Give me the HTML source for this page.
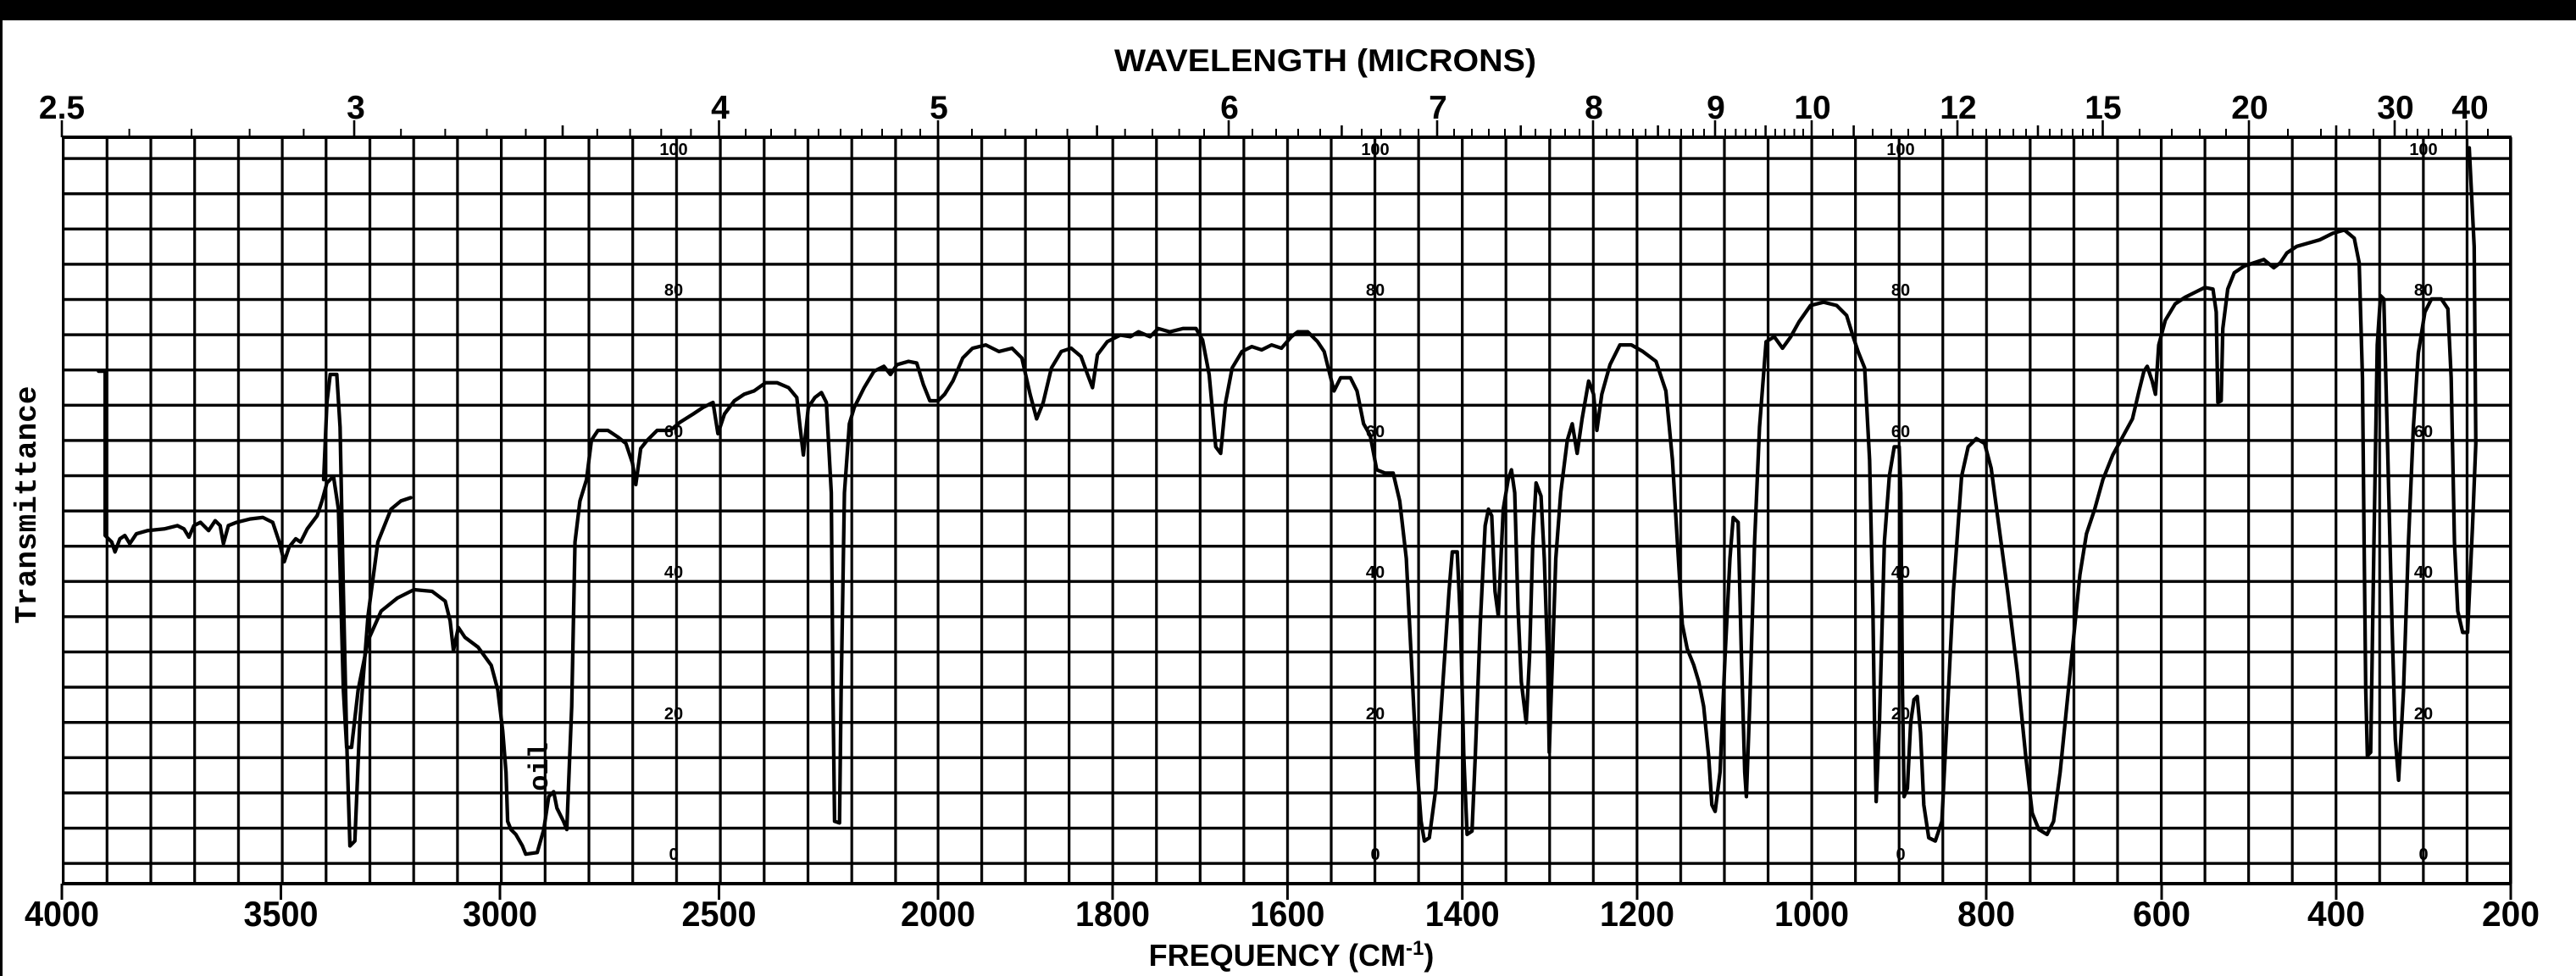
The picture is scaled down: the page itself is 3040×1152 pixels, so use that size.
<!DOCTYPE html>
<html><head><meta charset="utf-8"><style>
html,body{margin:0;padding:0;background:#fff;}
svg{display:block;}
.n{font-family:"Liberation Sans Narrow","Liberation Sans",sans-serif;font-weight:bold;fill:#000;}
</style></head><body>
<svg width="3040" height="1152" viewBox="0 0 3040 1152" xmlns="http://www.w3.org/2000/svg">
<defs>
<pattern id="vh" x="73" y="0" width="51.7" height="1152" patternUnits="userSpaceOnUse"><rect x="0" y="0" width="3.2" height="1152" fill="#000"/></pattern>
<pattern id="vl" x="1105.4" y="0" width="51.555" height="1152" patternUnits="userSpaceOnUse"><rect x="0" y="0" width="3.2" height="1152" fill="#000"/></pattern>
<pattern id="hz" x="0" y="185.4" width="3040" height="41.6" patternUnits="userSpaceOnUse"><rect x="0" y="0" width="3040" height="3.4" fill="#000"/></pattern>
</defs>
<rect width="3040" height="1152" fill="#fff"/>
<rect x="0" y="0" width="3040" height="24" fill="#000"/>
<rect x="0" y="0" width="3" height="1152" fill="#000"/>
<rect x="71.4" y="162" width="1035" height="881" fill="url(#vh)"/>
<rect x="1105.4" y="162" width="1860" height="881" fill="url(#vl)"/>
<rect x="73" y="185" width="2890" height="836" fill="url(#hz)"/>
<rect x="73" y="160" width="2891" height="4" fill="#000"/>
<rect x="73" y="1041" width="2891" height="4" fill="#000"/>
<rect x="2961" y="162" width="3.4" height="881" fill="#000"/>
<path d="M73,1043V1062M331.5,1043V1062M590,1043V1062M848.5,1043V1062M1107,1043V1062M1313,1043V1062M1519.4,1043V1062M1725.7,1043V1062M1932,1043V1062M2138,1043V1062M2344,1043V1062M2551,1043V1062M2757,1043V1062M2963,1043V1062" stroke="#000" stroke-width="3"/>
<path d="M73,142V162M418,142V162M848.5,142V162M1107,142V162M1450,142V162M1696,142V162M1880,142V162M2024,142V162M2138,142V162M2310,142V162M2481.5,142V162M2654,142V162M2826,142V162M2911,142V162M664,148V162M1294.6,148V162M1583.4,148V162M1794.7,148V162M1956.6,148V162M2083.6,148V162M2187.6,148V162M2405,148V162M2757,148V162" stroke="#000" stroke-width="2.6"/>
<path d="M152.6,152V162M226,152V162M294.6,152V162M358.4,152V162M473.2,152V162M525.4,152V162M574.5,152V162M620.5,152V162M704.8,152V162M743.6,152V162M780.3,152V162M815.4,152V162M880,152V162M910,152V162M938.5,152V162M966,152V162M992,152V162M1017,152V162M1041,152V162M1064,152V162M1086,152V162M1147,152V162M1186.4,152V162M1223,152V162M1259.6,152V162M1327.7,152V162M1360,152V162M1391.6,152V162M1421,152V162M1478,152V162M1506,152V162M1532,152V162M1558,152V162M1607,152V162M1630,152V162M1652.5,152V162M1674,152V162M1716,152V162M1737,152V162M1757,152V162M1776,152V162M1812,152V162M1830,152V162M1847,152V162M1864,152V162M1896,152V162M1911.3,152V162M1927,152V162M1942,152V162M1970,152V162M1984,152V162M1998,152V162M2011,152V162M2036,152V162M2048.4,152V162M2060,152V162M2072,152V162M2095,152V162M2106,152V162M2117.5,152V162M2128,152V162M2163,152V162M2210,152V162M2232,152V162M2252,152V162M2272,152V162M2291,152V162M2328,152V162M2344,152V162M2360,152V162M2376,152V162M2391,152V162M2419,152V162M2433,152V162M2446,152V162M2458,152V162M2470,152V162M2525,152V162M2563,152V162M2596,152V162M2627,152V162M2700,152V162M2739,152V162M2772.5,152V162M2801,152V162M2840,152V162M2853,152V162M2866,152V162M2882,152V162M2898,152V162M2936,152V162" stroke="#000" stroke-width="2"/>
<g class="n" font-size="39" text-anchor="middle">
<text x="73" y="140">2.5</text><text x="420" y="140">3</text><text x="850" y="140">4</text><text x="1108" y="140">5</text><text x="1451" y="140">6</text><text x="1697" y="140">7</text><text x="1881" y="140">8</text><text x="2025" y="140">9</text><text x="2139" y="140">10</text><text x="2311" y="140">12</text><text x="2482" y="140">15</text><text x="2655" y="140">20</text><text x="2827" y="140">30</text><text x="2915" y="140">40</text>
</g>
<text x="1564" y="84" text-anchor="middle" font-family="Liberation Sans, sans-serif" font-weight="bold" font-size="37" textLength="498" lengthAdjust="spacingAndGlyphs">WAVELENGTH (MICRONS)</text>
<g class="n" font-size="42" text-anchor="middle">
<text x="73" y="1093" textLength="88" lengthAdjust="spacingAndGlyphs">4000</text><text x="331.5" y="1093" textLength="88" lengthAdjust="spacingAndGlyphs">3500</text><text x="590" y="1093" textLength="88" lengthAdjust="spacingAndGlyphs">3000</text><text x="848.5" y="1093" textLength="88" lengthAdjust="spacingAndGlyphs">2500</text><text x="1107" y="1093" textLength="88" lengthAdjust="spacingAndGlyphs">2000</text><text x="1313" y="1093" textLength="88" lengthAdjust="spacingAndGlyphs">1800</text><text x="1519.4" y="1093" textLength="88" lengthAdjust="spacingAndGlyphs">1600</text><text x="1725.7" y="1093" textLength="88" lengthAdjust="spacingAndGlyphs">1400</text><text x="1932" y="1093" textLength="88" lengthAdjust="spacingAndGlyphs">1200</text><text x="2138" y="1093" textLength="88" lengthAdjust="spacingAndGlyphs">1000</text><text x="2344" y="1093" textLength="68" lengthAdjust="spacingAndGlyphs">800</text><text x="2551" y="1093" textLength="68" lengthAdjust="spacingAndGlyphs">600</text><text x="2757" y="1093" textLength="68" lengthAdjust="spacingAndGlyphs">400</text><text x="2963" y="1093" textLength="68" lengthAdjust="spacingAndGlyphs">200</text>
</g>
<text x="1524" y="1140" text-anchor="middle" font-family="Liberation Sans, sans-serif" font-weight="bold" font-size="36">FREQUENCY (CM<tspan font-size="24" dy="-13">-1</tspan><tspan dy="13">)</tspan></text>
<text transform="translate(42,596) rotate(-90)" text-anchor="middle" font-family="Liberation Mono, monospace" font-weight="bold" font-size="36">Transmittance</text>
<g class="n" font-size="20" text-anchor="middle">
<text x="795" y="183">100</text><text x="795" y="349">80</text><text x="795" y="516">60</text><text x="795" y="682">40</text><text x="795" y="849">20</text><text x="795" y="1015">0</text>
<text x="1623" y="183">100</text><text x="1623" y="349">80</text><text x="1623" y="516">60</text><text x="1623" y="682">40</text><text x="1623" y="849">20</text><text x="1623" y="1015">0</text>
<text x="2243" y="183">100</text><text x="2243" y="349">80</text><text x="2243" y="516">60</text><text x="2243" y="682">40</text><text x="2243" y="849">20</text><text x="2243" y="1015">0</text>
<text x="2860" y="183">100</text><text x="2860" y="349">80</text><text x="2860" y="516">60</text><text x="2860" y="682">40</text><text x="2860" y="849">20</text><text x="2860" y="1015">0</text>
</g>
<text transform="translate(646,905) rotate(-90)" text-anchor="middle" font-family="Liberation Mono, monospace" font-weight="bold" font-size="32">oil</text>
<g transform="scale(1.9388)" fill="none" stroke="#000" stroke-width="2.2" stroke-linejoin="round" stroke-linecap="round">
<path d="M60,226 L64,226 L64,326 L68,330 L70,336 L73,328 L76,326 L79,331 L83,325 L90,323 L100,322 L108,320 L112,322 L115,327 L118,320 L122,318 L127,323 L131,317 L134,320 L136,331 L139,320 L144,318 L152,316 L160,315 L166,318 L170,330 L173,342 L176,333 L180,328 L183,330 L187,322 L193,314 L196,305 L199,294 L203,290 L206,310 L209,420 L211,455 L214,455 L218,420 L224,390 L232,372 L242,364 L252,359 L263,360 L271,366 L274,378 L276,396 L279,382 L283,388 L291,394 L299,405 L303,420 L306,445 L308,470 L309,500 L311,505 L314,508 L318,515 L320,520 L327,519 L331,505 L334,485 L337,482 L339,492 L343,500 L345,505 L348,430 L350,330 L353,305 L357,292 L360,268 L364,262 L370,262 L376,266 L381,270 L385,282 L387,295 L390,273 L394,268 L400,262 L408,262 L414,257 L422,252 L428,248 L434,245 L437,264 L441,252 L447,244 L453,240 L459,238 L466,233 L473,233 L480,236 L485,242 L487,260 L489,277 L492,248 L496,242 L500,239 L503,245 L506,300 L507,420 L508,500 L511,501 L512,420 L514,300 L517,258 L520,248 L526,236 L532,226 L538,223 L542,228 L546,222 L553,220 L558,221 L562,234 L566,244 L571,244 L575,240 L580,232 L586,218 L592,212 L600,210 L608,214 L616,212 L622,218 L627,240 L631,255 L635,245 L640,224 L646,214 L652,212 L658,217 L662,228 L665,236 L668,216 L674,208 L682,204 L688,205 L693,202 L700,205 L705,200 L712,202 L720,200 L728,200 L732,207 L736,228 L740,272 L743,276 L746,245 L750,224 L756,214 L762,211 L768,213 L774,210 L780,212 L786,205 L790,202 L796,202 L802,208 L806,214 L810,230 L812,238 L816,230 L822,230 L826,238 L830,258 L834,265 L838,286 L843,288 L848,288 L852,305 L856,340 L859,400 L862,460 L865,500 L867,512 L870,510 L874,480 L878,420 L882,360 L884,336 L887,336 L889,380 L891,460 L893,508 L896,506 L898,460 L901,380 L904,320 L906,310 L908,314 L910,360 L912,375 L915,310 L918,292 L920,286 L922,300 L924,370 L926,415 L929,440 L931,400 L933,330 L935,294 L938,302 L940,340 L942,400 L943,458 L945,400 L947,340 L950,300 L954,268 L957,258 L960,276 L963,255 L967,232 L970,240 L972,262 L975,240 L980,222 L986,210 L993,210 L1000,214 L1008,220 L1014,238 L1018,280 L1021,330 L1024,380 L1027,395 L1029,400 L1031,405 L1034,415 L1037,430 L1040,460 L1042,490 L1044,494 L1047,470 L1050,400 L1053,340 L1055,315 L1058,318 L1060,400 L1062,470 L1063,485 L1065,430 L1068,330 L1071,260 L1075,208 L1080,205 L1085,212 L1090,205 L1095,196 L1102,186 L1110,184 L1118,186 L1124,192 L1128,205 L1131,214 L1135,224 L1138,280 L1140,370 L1141,440 L1142,488 L1144,440 L1147,330 L1150,290 L1153,272 L1156,272 L1157,300 L1158,420 L1159,485 L1161,480 L1163,440 L1165,426 L1167,424 L1169,446 L1171,490 L1174,510 L1178,512 L1182,500 L1185,440 L1189,360 L1194,290 L1198,272 L1203,267 L1208,270 L1212,285 L1216,315 L1222,360 L1228,410 L1233,460 L1237,495 L1241,505 L1246,508 L1250,500 L1254,470 L1258,430 L1262,390 L1266,350 L1270,325 L1275,310 L1280,292 L1286,277 L1292,266 L1298,255 L1302,238 L1305,226 L1307,223 L1310,232 L1312,240 L1314,210 L1318,195 L1324,185 L1330,181 L1336,178 L1342,175 L1347,176 L1349,190 L1350,245 L1352,244 L1353,200 L1356,176 L1360,166 L1366,162 L1372,160 L1378,158 L1384,163 L1388,160 L1392,154 L1398,150 L1405,148 L1412,146 L1420,142 L1427,140 L1433,145 L1436,160 L1438,230 L1439,330 L1440,420 L1441,460 L1443,458 L1445,330 L1447,210 L1449,180 L1451,182 L1453,260 L1456,380 L1458,450 L1460,475 L1463,420 L1466,330 L1469,260 L1472,215 L1476,190 L1480,182 L1486,182 L1490,188 L1492,230 L1494,330 L1496,372 L1499,385 L1502,385 L1505,320 L1507,270 L1506,150 L1503,90"/>
<path d="M197,292 L199,245 L201,228 L205,228 L207,260 L209,360 L211,450 L213,515 L216,512 L219,440 L224,375 L230,330 L238,310 L244,305 L250,303"/>
</g>
</svg>
</body></html>
